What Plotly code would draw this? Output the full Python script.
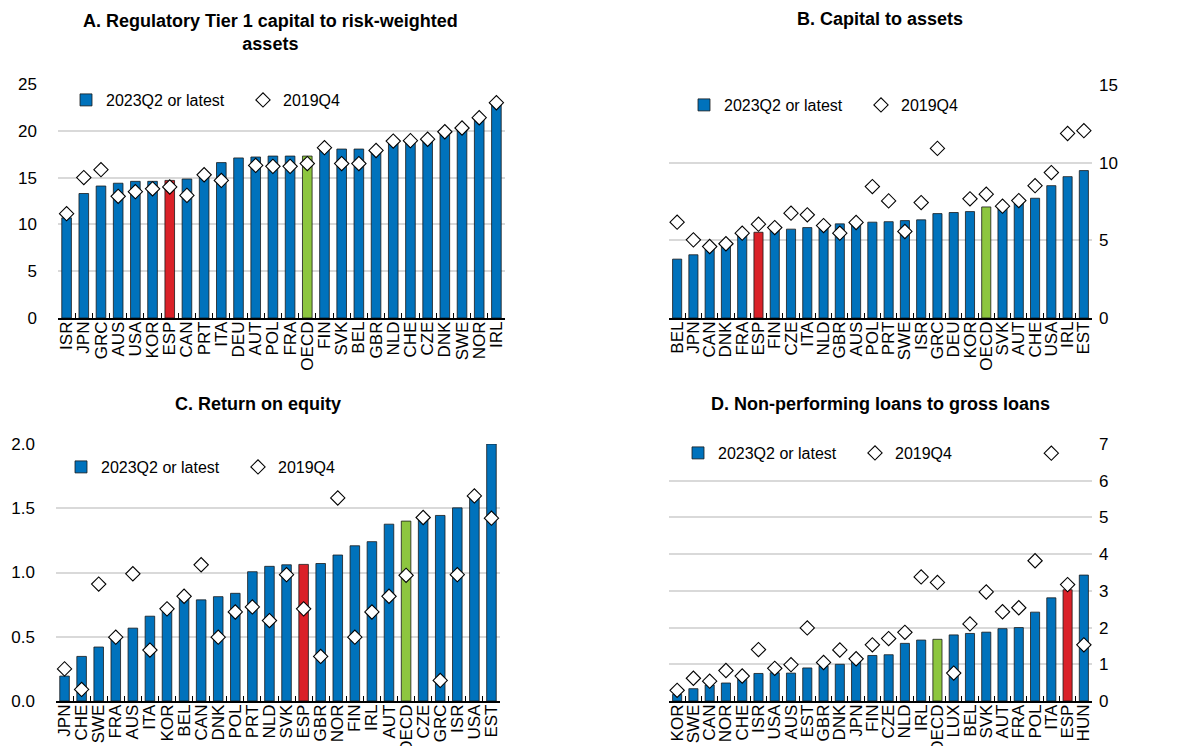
import plotly.graph_objects as go

# ---------------- data ----------------
a_cats = ["ISR","JPN","GRC","AUS","USA","KOR","ESP","CAN","PRT","ITA","DEU","AUT","POL","FRA","OECD",
          "FIN","SVK","BEL","GBR","NLD","CHE","CZE","DNK","SWE","NOR","IRL"]
a_2023 = [10.7,13.3,14.1,14.4,14.6,14.6,14.7,14.85,15.3,16.6,17.1,17.2,17.3,17.3,17.3,
          18.0,18.05,18.05,17.8,18.7,18.9,19.0,19.9,20.2,21.2,23.0]
a_2019 = [11.15,15.0,15.85,13.0,13.5,13.8,14.0,13.1,15.3,14.7,None,16.3,16.2,16.2,16.5,
          18.2,16.5,16.5,17.9,18.9,18.95,19.1,19.9,20.3,21.4,23.0]

b_cats = ["BEL","JPN","CAN","DNK","FRA","ESP","FIN","CZE","ITA","NLD","GBR","AUS","POL","PRT","SWE",
          "ISR","GRC","DEU","KOR","OECD","SVK","AUT","CHE","USA","IRL","EST"]
b_2023 = [3.79,4.07,4.5,4.6,5.35,5.52,5.67,5.72,5.82,5.9,6.06,6.1,6.17,6.2,6.27,
          6.32,6.72,6.79,6.85,7.15,7.07,7.4,7.71,8.52,9.1,9.49]
b_2019 = [6.17,5.03,4.6,4.78,5.46,6.04,5.82,6.75,6.64,5.95,5.46,6.15,8.46,7.54,5.57,
          7.43,10.92,None,7.67,7.97,7.2,7.56,8.52,9.36,11.88,12.06]

c_cats = ["JPN","CHE","SWE","FRA","AUS","ITA","KOR","BEL","CAN","DNK","POL","PRT","NLD","SVK","ESP",
          "GBR","NOR","FIN","IRL","AUT","OECD","CZE","GRC","ISR","USA","EST"]
c_2023 = [0.194,0.347,0.42,0.49,0.567,0.66,0.71,0.80,0.787,0.812,0.838,1.006,1.048,1.06,1.063,
          1.07,1.136,1.208,1.24,1.376,1.40,1.43,1.444,1.503,1.58,2.0]
c_2019 = [0.25,0.09,0.91,0.497,0.99,0.396,0.717,0.815,1.06,0.497,0.693,0.732,0.626,0.983,0.717,
          0.347,1.58,0.497,0.693,0.815,0.978,1.428,0.16,0.983,1.596,1.423]

d_cats = ["KOR","SWE","CAN","NOR","CHE","ISR","USA","AUS","EST","GBR","DNK","JPN","FIN","CZE","NLD",
          "IRL","OECD","LUX","BEL","SVK","AUT","FRA","POL","ITA","ESP","HUN"]
d_2023 = [0.18,0.335,0.435,0.49,0.59,0.75,0.77,0.76,0.90,0.95,1.0,1.09,1.24,1.26,1.57,
          1.66,1.68,1.80,1.84,1.875,1.97,2.0,2.42,2.81,3.03,3.43]
d_2019 = [0.29,0.62,0.54,0.83,0.68,1.40,0.89,0.99,1.99,1.05,1.39,1.15,1.53,1.70,1.87,
          3.38,3.23,0.76,2.10,2.97,2.43,2.54,3.82,6.75,3.17,1.53]

titles = ["A. Regulatory Tier 1 capital to risk-weighted<br>assets", "B. Capital to assets",
          "C. Return on equity", "D. Non-performing loans to gross loans"]
legend_names = ["2023Q2 or latest", "2019Q4"]

# ---------------- style ----------------
BLUE = "#0072BC"
RED = "#DA2128"
GREEN = "#8DC63F"
FONT = "Liberation Sans, Arial"

def colors(cats):
    return [RED if c == "ESP" else GREEN if c == "OECD" else BLUE for c in cats]

panels = [
    (a_cats, a_2023, a_2019, [0, 25], 5, "left", None),
    (b_cats, b_2023, b_2019, [0, 15], 5, "right", None),
    (c_cats, c_2023, c_2019, [0, 2], 0.5, "left", ".1f"),
    (d_cats, d_2023, d_2019, [0, 7], 1, "right", None),
]

W, H = 1184, 746
# domains in pixels: (x0, x1, ytop, ybottom)
dom_px = [(50, 497, 76, 310), (661, 1084, 77, 310), (48, 492, 436, 693), (661, 1084, 436, 693)]
legend_pos = [(58, 92), (676, 97), (53, 459), (670, 445)]
title_pos = [(262, 24), (872, 11), (250, 396), (872, 396)]

fig = go.Figure()
layout = dict(
    width=W, height=H, margin=dict(l=0, r=0, t=0, b=0),
    paper_bgcolor="white", plot_bgcolor="white",
    font=dict(family=FONT, size=16, color="black"),
    showlegend=True,
)
annotations = []
for i, (cats, v23, v19, rng, dt, side, fmt) in enumerate(panels):
    n = "" if i == 0 else str(i + 1)
    lg = "legend" + n
    fig.add_trace(go.Bar(
        x=cats, y=v23, name=legend_names[0], xaxis="x" + n, yaxis="y" + n,
        marker=dict(color=colors(cats), line=dict(color="#1a1a1a", width=0.8)),
        legend=lg, showlegend=True, width=0.56,
    ))
    fig.add_trace(go.Scatter(
        x=cats, y=v19, name=legend_names[1], xaxis="x" + n, yaxis="y" + n, mode="markers",
        marker=dict(symbol="diamond", size=11, color="white", line=dict(color="black", width=1.1)),
        legend=lg, showlegend=True, cliponaxis=False,
    ))
    x0, x1, yt, yb = dom_px[i]
    layout["xaxis" + n] = dict(
        domain=[x0 / W, x1 / W], anchor="y" + n, type="category",
        range=[-0.5, len(cats) - 0.5], tickmode="array", tickvals=cats, ticktext=cats,
        tickangle=-90, ticks="inside", tickson="boundaries", ticklen=5, tickcolor="black",
        showline=True, linecolor="black", linewidth=1.5, showgrid=False,
        tickfont=dict(family=FONT, size=17), automargin=False, ticklabelstandoff=-5,
    )
    layout["yaxis" + n] = dict(
        domain=[1 - yb / H, 1 - yt / H], anchor="x" + n, range=rng, dtick=dt, side=side,
        showgrid=True, gridcolor="#d9d9d9", gridwidth=1.5, zeroline=False, showline=False,
        ticks="", tickfont=dict(family=FONT, size=17), tickformat=fmt, automargin=False,
        ticklabelstandoff=(20 if side == "left" else 6),
    )
    lx, ly = legend_pos[i]
    layout[lg] = dict(
        x=lx / W, y=1 - ly / H, xanchor="left", yanchor="middle", orientation="h",
        bgcolor="rgba(0,0,0,0)", font=dict(family=FONT, size=16),
        entrywidth=132, entrywidthmode="pixels", itemwidth=30, tracegroupgap=0,
    )
    tx, ty = title_pos[i]
    annotations.append(dict(
        text="<b>" + titles[i] + "</b>", x=tx / W, y=1 - ty / H, xref="paper", yref="paper",
        xanchor="center", yanchor="middle", showarrow=False,
        font=dict(family=FONT, size=18, color="black"),
    ))
layout["annotations"] = annotations
fig.update_layout(**layout)
fig.write_html("out.html")
